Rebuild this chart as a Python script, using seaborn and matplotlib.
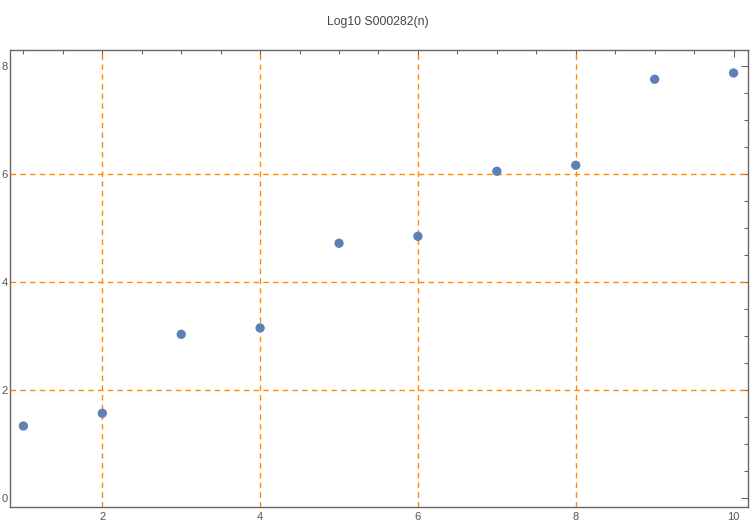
import matplotlib
matplotlib.use("Agg")
import matplotlib.pyplot as plt
from matplotlib.ticker import MultipleLocator, FixedLocator
import seaborn as sns
import pandas as pd

n_values = [1, 2, 3, 4, 5, 6, 7, 8, 9, 10]
log10_values = [1.333, 1.568, 3.031, 3.148, 4.717, 4.846, 6.05, 6.161, 7.754, 7.87]
x_tick_labels = [2, 4, 6, 8, 10]
y_tick_labels = [0, 2, 4, 6, 8]
grid_x = [2, 4, 6, 8]
grid_y = [2, 4, 6]
title = "Log10 S000282(n)"

sns.set_style("white")
plt.rcParams['font.family'] = ['Liberation Sans', 'DejaVu Sans']

df = pd.DataFrame({"n": n_values, "v": log10_values})

fig = plt.figure(figsize=(7.5, 5.25), dpi=100)
ax = fig.add_axes([0.0127, 0.0343, 0.997 - 0.0127, 0.9048 - 0.0343])

for gx in grid_x:
    ax.axvline(gx, color="#FF8C00", lw=1.0, ls=(0, (4, 3)), zorder=1)
for gy in grid_y:
    ax.axhline(gy, color="#FF8C00", lw=1.0, ls=(0, (4, 3)), zorder=1)

sns.scatterplot(data=df, x="n", y="v", ax=ax, color="#5E81B5", s=45,
                edgecolor="none", zorder=3, legend=False)

ax.set_xlim(0.824, 10.18)
ax.set_ylim(-0.167, 8.296)
ax.set_xlabel("")
ax.set_ylabel("")

ax.xaxis.set_major_locator(FixedLocator(x_tick_labels))
ax.yaxis.set_major_locator(FixedLocator(y_tick_labels))
ax.xaxis.set_minor_locator(MultipleLocator(0.5))
ax.yaxis.set_minor_locator(MultipleLocator(0.5))

ax.tick_params(which="both", direction="in", top=True, right=True,
               color="#666666", width=0.8)
ax.tick_params(which="major", length=5, labelsize=8, labelcolor="#555555", pad=3.5)
ax.tick_params(which="minor", length=3)
ax.tick_params(axis="y", which="major", pad=1.2)

for sp in ax.spines.values():
    sp.set_color("#666666")
    sp.set_linewidth(1.0)

fig.text(0.504, 1 - 22 / 525, title, ha="center", va="center",
         fontsize=8.8, color="#444444")

fig.savefig("out.png", dpi=100)
